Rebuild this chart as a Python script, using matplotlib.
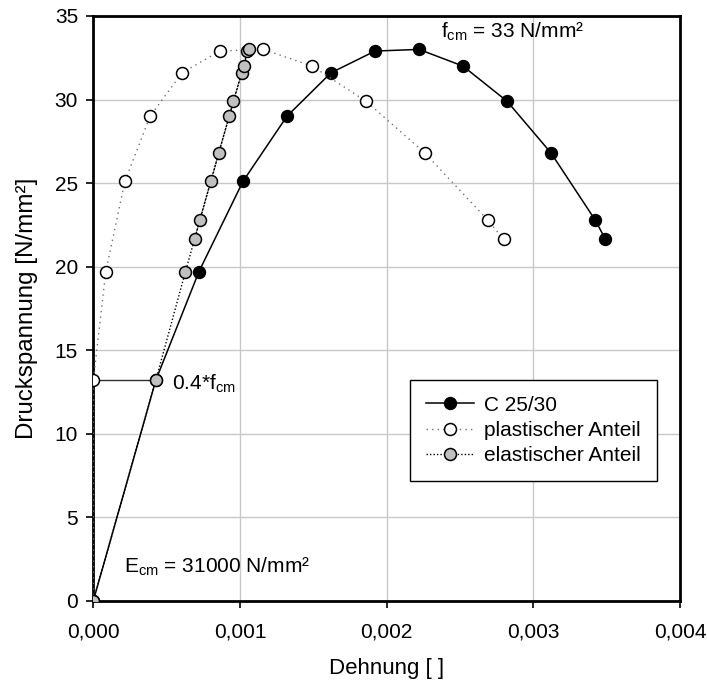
import matplotlib
matplotlib.use("Agg")
import matplotlib.pyplot as plt
from matplotlib.ticker import FuncFormatter, MultipleLocator

plt.rcParams['font.family'] = ['Liberation Sans', 'DejaVu Sans']
plt.rcParams['mathtext.fontset'] = 'custom'
plt.rcParams['mathtext.rm'] = 'Liberation Sans'
plt.rcParams['mathtext.it'] = 'Liberation Sans'

# Stress levels [N/mm²] and the corresponding strains
stress = [0, 13.2, 19.7, 25.1, 29.0, 31.6, 32.9, 33.0, 32.0, 29.9, 26.8, 22.8, 21.65]
total_strain = [0, 0.000426, 0.00072, 0.00102, 0.00132, 0.00162, 0.00192,
                0.00222, 0.00252, 0.00282, 0.00312, 0.00342, 0.00349]
plastic_strain = [0, 0, 0.000085, 0.000215, 0.000387, 0.000605, 0.000862,
                  0.001157, 0.001492, 0.001858, 0.00226, 0.002687, 0.002796]
elastic_strain = [0, 0.000426, 0.000628, 0.000801, 0.000926, 0.001012, 0.00105,
                  0.00106, 0.001024, 0.000955, 0.000855, 0.000726, 0.00069]

series_labels = ['C 25/30', 'plastischer Anteil', 'elastischer Anteil']
fcm = 33
ecm = 31000

FS = 15

fig = plt.figure(figsize=(7.07, 6.86), dpi=100)
ax = fig.add_axes([0.132, 0.1243, 0.830, 0.8524])

ax.plot(total_strain, stress, color='black', lw=1.1, marker='o', ms=8.6,
        mfc='black', mec='black', label=series_labels[0], zorder=3)
ax.plot(plastic_strain, stress, color='#707070', lw=1.0, ls=(0, (1, 3)),
        marker='o', ms=8.6, mfc='white', mec='black', mew=1.1,
        label=series_labels[1], zorder=4)
ax.plot(elastic_strain, stress, color='black', lw=1.0, ls=(0, (1, 1.5)),
        marker='o', ms=8.6, mfc='#c0c0c0', mec='black', mew=1.1,
        label=series_labels[2], zorder=5)

# 0.4*fcm split line between plastic and elastic part
ax.plot([plastic_strain[1], elastic_strain[1]], [stress[1], stress[1]],
        color='#303030', lw=1.0, zorder=2)

ax.set_xlim(0, 0.004)
ax.set_ylim(0, 35)
ax.xaxis.set_major_locator(MultipleLocator(0.001))
ax.yaxis.set_major_locator(MultipleLocator(5))
ax.xaxis.set_major_formatter(FuncFormatter(lambda v, p: f"{v:.3f}".replace('.', ',')))

ax.grid(True, color='#c8c8c8', lw=1.0)
ax.set_axisbelow(True)
for s in ax.spines.values():
    s.set_linewidth(2.0)
ax.tick_params(axis='both', labelsize=FS, length=5, width=1.2, direction='out')
ax.tick_params(axis='x', pad=10.5)
ax.tick_params(axis='y', pad=6)

ax.set_xlabel('Dehnung [ ]', fontsize=16, labelpad=12)
ax.set_ylabel('Druckspannung [N/mm²]', fontsize=17.4, labelpad=12)

ax.text(0.002373, 34.07, r'f$_{\mathrm{cm}}$ = ' + f'{fcm} N/mm²', fontsize=FS, va='center')
ax.text(0.000533, 13.0, r'0.4*f$_{\mathrm{cm}}$', fontsize=FS, va='center')
ax.text(0.000208, 2.0, r'E$_{\mathrm{cm}}$ = ' + f'{ecm} N/mm²', fontsize=FS, va='center')

leg = ax.legend(loc='upper left', bbox_to_anchor=(0.54, 0.3775), fontsize=FS,
                frameon=True, fancybox=False, edgecolor='black', framealpha=1,
                handlelength=2.3, handletextpad=0.5, labelspacing=0.3,
                borderpad=0.75, borderaxespad=0)
leg.get_frame().set_linewidth(1.0)

fig.savefig('out.png', dpi=100)
